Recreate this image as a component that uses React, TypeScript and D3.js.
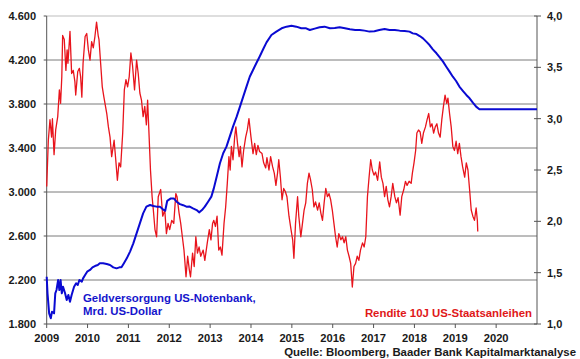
import React from 'react';
import * as d3 from 'd3';

// Fed balance sheet (bn USD), [decimal year, value]
const fedSeries: [number, number][] = [
  [2009.0, 2230], [2009.02, 2079], [2009.06, 1897], [2009.1, 1852], [2009.13, 1912], [2009.18, 1897],
  [2009.21, 2079], [2009.24, 2109], [2009.28, 2200], [2009.31, 2109], [2009.34, 2200], [2009.37, 2079],
  [2009.4, 2139], [2009.45, 2079], [2009.49, 2018], [2009.53, 2064], [2009.57, 2003], [2009.61, 2064],
  [2009.67, 2139], [2009.72, 2170], [2009.76, 2155], [2009.8, 2200], [2009.86, 2185], [2009.89, 2215],
  [2009.94, 2245], [2009.99, 2276], [2010.06, 2291], [2010.12, 2315], [2010.18, 2327], [2010.25, 2336],
  [2010.3, 2352], [2010.38, 2352], [2010.47, 2345], [2010.55, 2336], [2010.63, 2315], [2010.71, 2306],
  [2010.78, 2315], [2010.83, 2315], [2010.89, 2352], [2010.96, 2397], [2011.04, 2458], [2011.12, 2533],
  [2011.2, 2624], [2011.28, 2715], [2011.36, 2806], [2011.44, 2867], [2011.53, 2882], [2011.61, 2873],
  [2011.69, 2867], [2011.77, 2867], [2011.85, 2840], [2011.9, 2830], [2011.95, 2920], [2012.03, 2940],
  [2012.11, 2942], [2012.18, 2912], [2012.26, 2890], [2012.34, 2880], [2012.42, 2867], [2012.5, 2868],
  [2012.58, 2852], [2012.67, 2836], [2012.73, 2815], [2012.8, 2836], [2012.87, 2867], [2012.95, 2912],
  [2013.03, 2958], [2013.09, 3033], [2013.16, 3139], [2013.24, 3261], [2013.32, 3352], [2013.4, 3412],
  [2013.48, 3503], [2013.56, 3594], [2013.65, 3685], [2013.73, 3776], [2013.81, 3867], [2013.89, 3958],
  [2013.97, 4048], [2014.05, 4109], [2014.13, 4170], [2014.21, 4230], [2014.3, 4300], [2014.38, 4360],
  [2014.5, 4427], [2014.62, 4458], [2014.75, 4488], [2014.87, 4503], [2014.99, 4512], [2015.11, 4503],
  [2015.23, 4488], [2015.35, 4488], [2015.44, 4473], [2015.56, 4485], [2015.68, 4497], [2015.8, 4503],
  [2015.93, 4488], [2016.05, 4490], [2016.17, 4497], [2016.3, 4488], [2016.42, 4479], [2016.55, 4473],
  [2016.66, 4473], [2016.78, 4467], [2016.9, 4458], [2017.02, 4462], [2017.14, 4473], [2017.27, 4482],
  [2017.39, 4473], [2017.52, 4473], [2017.64, 4467], [2017.76, 4464], [2017.88, 4458], [2017.96, 4442],
  [2018.05, 4436], [2018.13, 4418], [2018.21, 4397], [2018.29, 4367], [2018.37, 4336], [2018.45, 4297],
  [2018.54, 4261], [2018.62, 4224], [2018.7, 4185], [2018.78, 4139], [2018.86, 4094], [2018.94, 4048],
  [2019.02, 4009], [2019.1, 3958], [2019.19, 3918], [2019.27, 3882], [2019.35, 3852], [2019.43, 3812],
  [2019.51, 3776], [2019.59, 3752], [2021.0, 3752],
];

// 10y US treasury yield (%), [decimal year, value]
const yieldSeries: [number, number][] = [
  [2009.0, 2.34], [2009.04, 2.79], [2009.08, 2.99], [2009.12, 2.82], [2009.14, 3.0], [2009.18, 2.65],
  [2009.22, 2.89], [2009.27, 3.02], [2009.31, 3.28], [2009.34, 3.15], [2009.37, 3.41], [2009.39, 3.81],
  [2009.43, 3.77], [2009.47, 3.47], [2009.5, 3.67], [2009.52, 3.54], [2009.57, 3.85], [2009.61, 3.44],
  [2009.65, 3.47], [2009.69, 3.36], [2009.71, 3.23], [2009.76, 3.46], [2009.8, 3.49], [2009.83, 3.41],
  [2009.86, 3.21], [2009.89, 3.54], [2009.94, 3.8], [2009.98, 3.83], [2010.02, 3.67], [2010.06, 3.57],
  [2010.1, 3.75], [2010.14, 3.69], [2010.18, 3.8], [2010.22, 3.94], [2010.26, 3.81], [2010.28, 3.77],
  [2010.32, 3.54], [2010.36, 3.31], [2010.4, 3.21], [2010.47, 3.05], [2010.51, 2.92], [2010.55, 2.82],
  [2010.59, 2.63], [2010.65, 2.79], [2010.69, 2.6], [2010.73, 2.4], [2010.77, 2.57], [2010.81, 2.53],
  [2010.86, 2.86], [2010.9, 3.28], [2010.94, 3.38], [2010.98, 3.31], [2011.02, 3.41], [2011.06, 3.64],
  [2011.1, 3.52], [2011.15, 3.28], [2011.2, 3.57], [2011.24, 3.44], [2011.28, 3.25], [2011.32, 3.18],
  [2011.36, 3.02], [2011.4, 3.12], [2011.44, 2.94], [2011.47, 3.18], [2011.5, 2.89], [2011.54, 2.5],
  [2011.58, 2.24], [2011.61, 2.11], [2011.65, 1.92], [2011.69, 1.85], [2011.73, 2.24], [2011.79, 2.31],
  [2011.84, 2.05], [2011.89, 2.11], [2011.93, 1.88], [2011.97, 1.98], [2012.01, 1.92], [2012.06, 2.01],
  [2012.11, 1.98], [2012.16, 2.27], [2012.19, 2.24], [2012.24, 2.08], [2012.28, 1.98], [2012.32, 1.85],
  [2012.36, 1.72], [2012.41, 1.46], [2012.45, 1.66], [2012.49, 1.53], [2012.52, 1.46], [2012.57, 1.69],
  [2012.61, 1.56], [2012.65, 1.85], [2012.69, 1.69], [2012.73, 1.75], [2012.77, 1.66], [2012.83, 1.72],
  [2012.87, 1.62], [2012.93, 1.79], [2012.98, 1.92], [2013.02, 1.82], [2013.06, 1.98], [2013.09, 2.01],
  [2013.13, 1.95], [2013.17, 2.05], [2013.21, 1.72], [2013.25, 1.75], [2013.29, 1.67], [2013.34, 1.98],
  [2013.38, 2.14], [2013.42, 2.37], [2013.46, 2.63], [2013.49, 2.5], [2013.52, 2.73], [2013.56, 2.6],
  [2013.6, 2.82], [2013.63, 2.92], [2013.67, 2.76], [2013.71, 2.63], [2013.74, 2.73], [2013.78, 2.53],
  [2013.82, 2.69], [2013.87, 2.82], [2013.91, 2.89], [2013.95, 3.0], [2014.0, 2.82], [2014.05, 2.66],
  [2014.09, 2.76], [2014.13, 2.65], [2014.17, 2.74], [2014.21, 2.68], [2014.27, 2.66], [2014.31, 2.57],
  [2014.36, 2.52], [2014.39, 2.62], [2014.44, 2.5], [2014.48, 2.63], [2014.53, 2.53], [2014.57, 2.47],
  [2014.61, 2.35], [2014.65, 2.47], [2014.68, 2.6], [2014.72, 2.43], [2014.76, 2.21], [2014.8, 2.32],
  [2014.84, 2.29], [2014.88, 2.24], [2014.93, 2.05], [2014.98, 1.92], [2015.02, 1.82], [2015.05, 1.64],
  [2015.09, 1.98], [2015.14, 2.24], [2015.17, 2.05], [2015.22, 1.85], [2015.26, 1.98], [2015.3, 2.11],
  [2015.34, 2.18], [2015.38, 2.37], [2015.42, 2.47], [2015.46, 2.4], [2015.5, 2.31], [2015.54, 2.14],
  [2015.58, 2.19], [2015.63, 2.11], [2015.67, 2.18], [2015.71, 2.08], [2015.75, 2.01], [2015.79, 2.18],
  [2015.83, 2.32], [2015.87, 2.24], [2015.91, 2.27], [2015.95, 2.21], [2015.99, 2.11], [2016.03, 1.98],
  [2016.07, 1.85], [2016.11, 1.75], [2016.15, 1.88], [2016.2, 1.82], [2016.24, 1.85], [2016.28, 1.79],
  [2016.32, 1.85], [2016.36, 1.72], [2016.4, 1.66], [2016.44, 1.59], [2016.48, 1.36], [2016.52, 1.56],
  [2016.56, 1.59], [2016.6, 1.66], [2016.64, 1.62], [2016.68, 1.72], [2016.73, 1.79], [2016.77, 1.75],
  [2016.81, 1.85], [2016.85, 2.24], [2016.89, 2.43], [2016.93, 2.6], [2016.97, 2.5], [2017.01, 2.45],
  [2017.05, 2.48], [2017.1, 2.4], [2017.15, 2.58], [2017.19, 2.43], [2017.23, 2.37], [2017.27, 2.24],
  [2017.31, 2.34], [2017.35, 2.21], [2017.39, 2.14], [2017.43, 2.24], [2017.47, 2.37], [2017.52, 2.24],
  [2017.56, 2.18], [2017.6, 2.23], [2017.65, 2.06], [2017.69, 2.24], [2017.74, 2.31], [2017.78, 2.39],
  [2017.82, 2.35], [2017.87, 2.39], [2017.92, 2.37], [2017.95, 2.47], [2017.99, 2.57], [2018.03, 2.69],
  [2018.06, 2.86], [2018.1, 2.89], [2018.14, 2.87], [2018.18, 2.76], [2018.22, 2.86], [2018.27, 2.92],
  [2018.31, 2.99], [2018.35, 3.05], [2018.39, 2.92], [2018.43, 2.95], [2018.47, 2.86], [2018.51, 2.92],
  [2018.55, 2.95], [2018.59, 2.86], [2018.63, 2.82], [2018.67, 2.99], [2018.71, 3.12], [2018.75, 3.23],
  [2018.79, 3.15], [2018.82, 3.2], [2018.86, 3.05], [2018.9, 2.92], [2018.94, 2.73], [2018.98, 2.69],
  [2019.02, 2.78], [2019.06, 2.66], [2019.1, 2.76], [2019.14, 2.63], [2019.18, 2.53], [2019.23, 2.43],
  [2019.27, 2.57], [2019.31, 2.5], [2019.35, 2.31], [2019.39, 2.11], [2019.43, 2.05], [2019.47, 2.01],
  [2019.51, 2.13], [2019.54, 2.01], [2019.55, 1.9],
];

const years = [2009, 2010, 2011, 2012, 2013, 2014, 2015, 2016, 2017, 2018, 2019, 2020];
const leftTicks = [1800, 2200, 2600, 3000, 3400, 3800, 4200, 4600];
const rightTicks = [1.0, 1.5, 2.0, 2.5, 3.0, 3.5, 4.0];

const W = 580;
const H = 359;
const FONT = "'Liberation Sans', Arial, sans-serif";

export default function App() {
  const x = d3.scaleLinear().domain([2009, 2021]).range([46.7, 537]);
  const yL = d3.scaleLinear().domain([1800, 4600]).range([324, 16]);
  const yR = d3.scaleLinear().domain([1.0, 4.0]).range([324, 16]);

  const fedLine = d3.line<[number, number]>().x(d => x(d[0])).y(d => yL(d[1]));
  const yieldLine = d3.line<[number, number]>().x(d => x(d[0])).y(d => yR(d[1]));

  const fmtL = (v: number) => d3.format(',')(v).replace(',', '.');
  const fmtR = (v: number) => v.toFixed(1).replace('.', ',');

  const x0 = x(2009);
  const x1 = x(2021);

  return (
    <svg width={W} height={H} style={{ position: 'absolute', left: 0, top: 0, background: '#fff' }}
      fontFamily={FONT} fontWeight="bold">
      {/* grid */}
      {leftTicks.slice(1).map(t => (
        <line key={t} x1={x0} x2={x1} y1={yL(t)} y2={yL(t)}
          stroke={t === 4600 ? '#bdbdbd' : '#7a7a7a'} strokeWidth={1} />
      ))}

      {/* left axis */}
      <line x1={x0} x2={x0} y1={16} y2={324} stroke="#555" />
      {leftTicks.map(t => (
        <g key={t}>
          <line x1={x0 - 3} x2={x0} y1={yL(t)} y2={yL(t)} stroke="#555" />
          <text x={36} y={yL(t)} dy="0.36em" textAnchor="end" fontSize={11} fill="#1a1a1a">{fmtL(t)}</text>
        </g>
      ))}

      {/* right axis */}
      <line x1={x1} x2={x1} y1={16} y2={324} stroke="#555" />
      {rightTicks.map(t => (
        <g key={t}>
          <line x1={x1 - 3} x2={x1 + 4} y1={yR(t)} y2={yR(t)} stroke="#555" />
          <text x={547} y={yR(t)} dy="0.36em" fontSize={11} fill="#1a1a1a">{fmtR(t)}</text>
        </g>
      ))}

      {/* x axis */}
      <line x1={x0} x2={x1} y1={324} y2={324} stroke="#555" />
      {years.map(yr => (
        <g key={yr}>
          <line x1={x(yr)} x2={x(yr)} y1={324} y2={328} stroke="#555" />
          <text x={x(yr)} y={342} textAnchor="middle" fontSize={11.2} fill="#1a1a1a">{yr}</text>
        </g>
      ))}

      {/* series */}
      <path d={yieldLine(yieldSeries) || ''} fill="none" stroke="#e8141c" strokeWidth={1.3} strokeLinejoin="round" />
      <path d={fedLine(fedSeries) || ''} fill="none" stroke="#0a0ad2" strokeWidth={2} strokeLinejoin="round" />

      {/* labels */}
      <text x={83} y={302} fontSize={11.4} fill="#1515cc">Geldversorgung US-Notenbank,</text>
      <text x={83} y={315} fontSize={11.4} fill="#1515cc">Mrd. US-Dollar</text>
      <text x={532} y={317} textAnchor="end" fontSize={11.4} fill="#e01818">Rendite 10J US-Staatsanleihen</text>
      <text x={576} y={356} textAnchor="end" fontSize={11.4} fill="#1a1a1a">Quelle: Bloomberg, Baader Bank Kapitalmarktanalyse</text>
    </svg>
  );
}
